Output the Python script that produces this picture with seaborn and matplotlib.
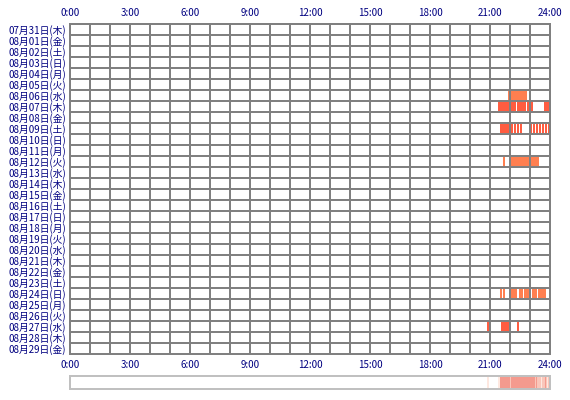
import numpy as np
import pandas as pd
import matplotlib
matplotlib.use("Agg")
import matplotlib.pyplot as plt
from matplotlib.colors import LinearSegmentedColormap
import seaborn as sns

sns.set_style("white")
plt.rcParams['font.family'] = ['Noto Sans CJK JP', 'DejaVu Sans']

day_labels = [
    "07月31日(木)", "08月01日(金)", "08月02日(土)", "08月03日(日)", "08月04日(月)",
    "08月05日(火)", "08月06日(水)", "08月07日(木)", "08月08日(金)", "08月09日(土)",
    "08月10日(日)", "08月11日(月)", "08月12日(火)", "08月13日(水)", "08月14日(木)",
    "08月15日(金)", "08月16日(土)", "08月17日(日)", "08月18日(月)", "08月19日(火)",
    "08月20日(水)", "08月21日(木)", "08月22日(金)", "08月23日(土)", "08月24日(日)",
    "08月25日(月)", "08月26日(火)", "08月27日(水)", "08月28日(木)", "08月29日(金)",
]
hour_ticks = [0, 3, 6, 9, 12, 15, 18, 21, 24]
hour_labels = ["0:00", "3:00", "6:00", "9:00", "12:00", "15:00", "18:00", "21:00", "24:00"]

# sessions: day label, start hour, end hour, intensity level
sess_day = (
    ["08月06日(水)"]
    + ["08月07日(木)"] * 4
    + ["08月09日(土)"] * 12
    + ["08月12日(火)"] * 2
    + ["08月24日(日)"] * 8
    + ["08月27日(水)"] * 3
)
sess_start = [
    21.90,
    21.42, 22.35, 22.83, 23.72,
    21.50, 22.05, 22.20, 22.35, 22.50, 23.02, 23.17, 23.32, 23.47, 23.62, 23.77, 23.90,
    21.65, 22.03,
    21.50, 21.67, 22.05, 22.43, 22.70, 22.82, 23.08, 23.38,
    20.87, 21.55, 22.35,
]
sess_end = [
    22.83,
    22.30, 22.78, 23.13, 24.00,
    22.00, 22.15, 22.30, 22.45, 22.60, 23.12, 23.27, 23.42, 23.57, 23.72, 23.87, 23.98,
    21.75, 23.45,
    21.58, 21.75, 22.37, 22.63, 22.78, 23.00, 23.33, 23.80,
    20.95, 21.95, 22.43,
]
sess_level = (
    [1]
    + [2] * 4
    + [2] * 12
    + [1] * 2
    + [1] * 8
    + [2] * 3
)

df = pd.DataFrame({"day": sess_day, "start": sess_start, "end": sess_end, "level": sess_level})
df["row"] = df["day"].map({d: i for i, d in enumerate(day_labels)})
df["dur"] = df["end"] - df["start"]
level_colors = {1: "#FF7F50", 2: "#FF5C40"}

navy = "#000080"
grid_gray = "#808080"
glw = 1.44

fig = plt.figure(figsize=(5.7, 4.0), dpi=100)
ax = fig.add_axes([70 / 570, 46 / 400, 480 / 570, 330 / 400])

ax.barh(df["row"] + 0.5, df["dur"], left=df["start"], height=1.0,
        color=df["level"].map(level_colors), linewidth=0, zorder=1)

ax.set_xlim(0, 24)
ax.set_ylim(len(day_labels), 0)
ax.set_xticks(hour_ticks)
ax.set_xticklabels(hour_labels)
ax.set_xticks(range(25), minor=True)
ax.xaxis.remove_overlapping_locs = False
ax.set_yticks(np.arange(len(day_labels)) + 0.5)
ax.set_yticklabels(day_labels)
ax.set_yticks(range(len(day_labels) + 1), minor=True)
ax.set_axisbelow(False)
ax.xaxis.grid(False, which="major")
ax.yaxis.grid(False, which="major")
ax.xaxis.grid(True, which="minor", color=grid_gray, linewidth=glw)
ax.yaxis.grid(True, which="minor", color=grid_gray, linewidth=glw)
ax.tick_params(which="both", length=0)
ax.tick_params(axis="x", which="major", labelsize=7, labelcolor=navy,
               top=True, labeltop=True, bottom=True, labelbottom=True, pad=4)
ax.tick_params(axis="y", which="major", labelsize=7, labelcolor=navy, pad=3)
for s in ax.spines.values():
    s.set_color(grid_gray)
    s.set_linewidth(glw)

# bottom density strip
nbins = 480
edges = np.linspace(0, 24, nbins + 1)
centers = (edges[:-1] + edges[1:]) / 2
counts = np.zeros(nbins)
for st, en in zip(df["start"], df["end"]):
    counts += ((centers >= st) & (centers < en)).astype(float)

ax2 = fig.add_axes([70 / 570, 11 / 400, 480 / 570, 13 / 400])
cmap = LinearSegmentedColormap.from_list("strip", ["#FFFFFF", "#FDDCD0", "#F49A8E"])
sns.heatmap(counts.reshape(1, -1), ax=ax2, cmap=cmap, vmin=0, vmax=3.0,
            cbar=False, xticklabels=False, yticklabels=False)
for s in ax2.spines.values():
    s.set_visible(True)
    s.set_color("#C0C0C0")
    s.set_linewidth(glw)

fig.savefig("out.png", dpi=100)
